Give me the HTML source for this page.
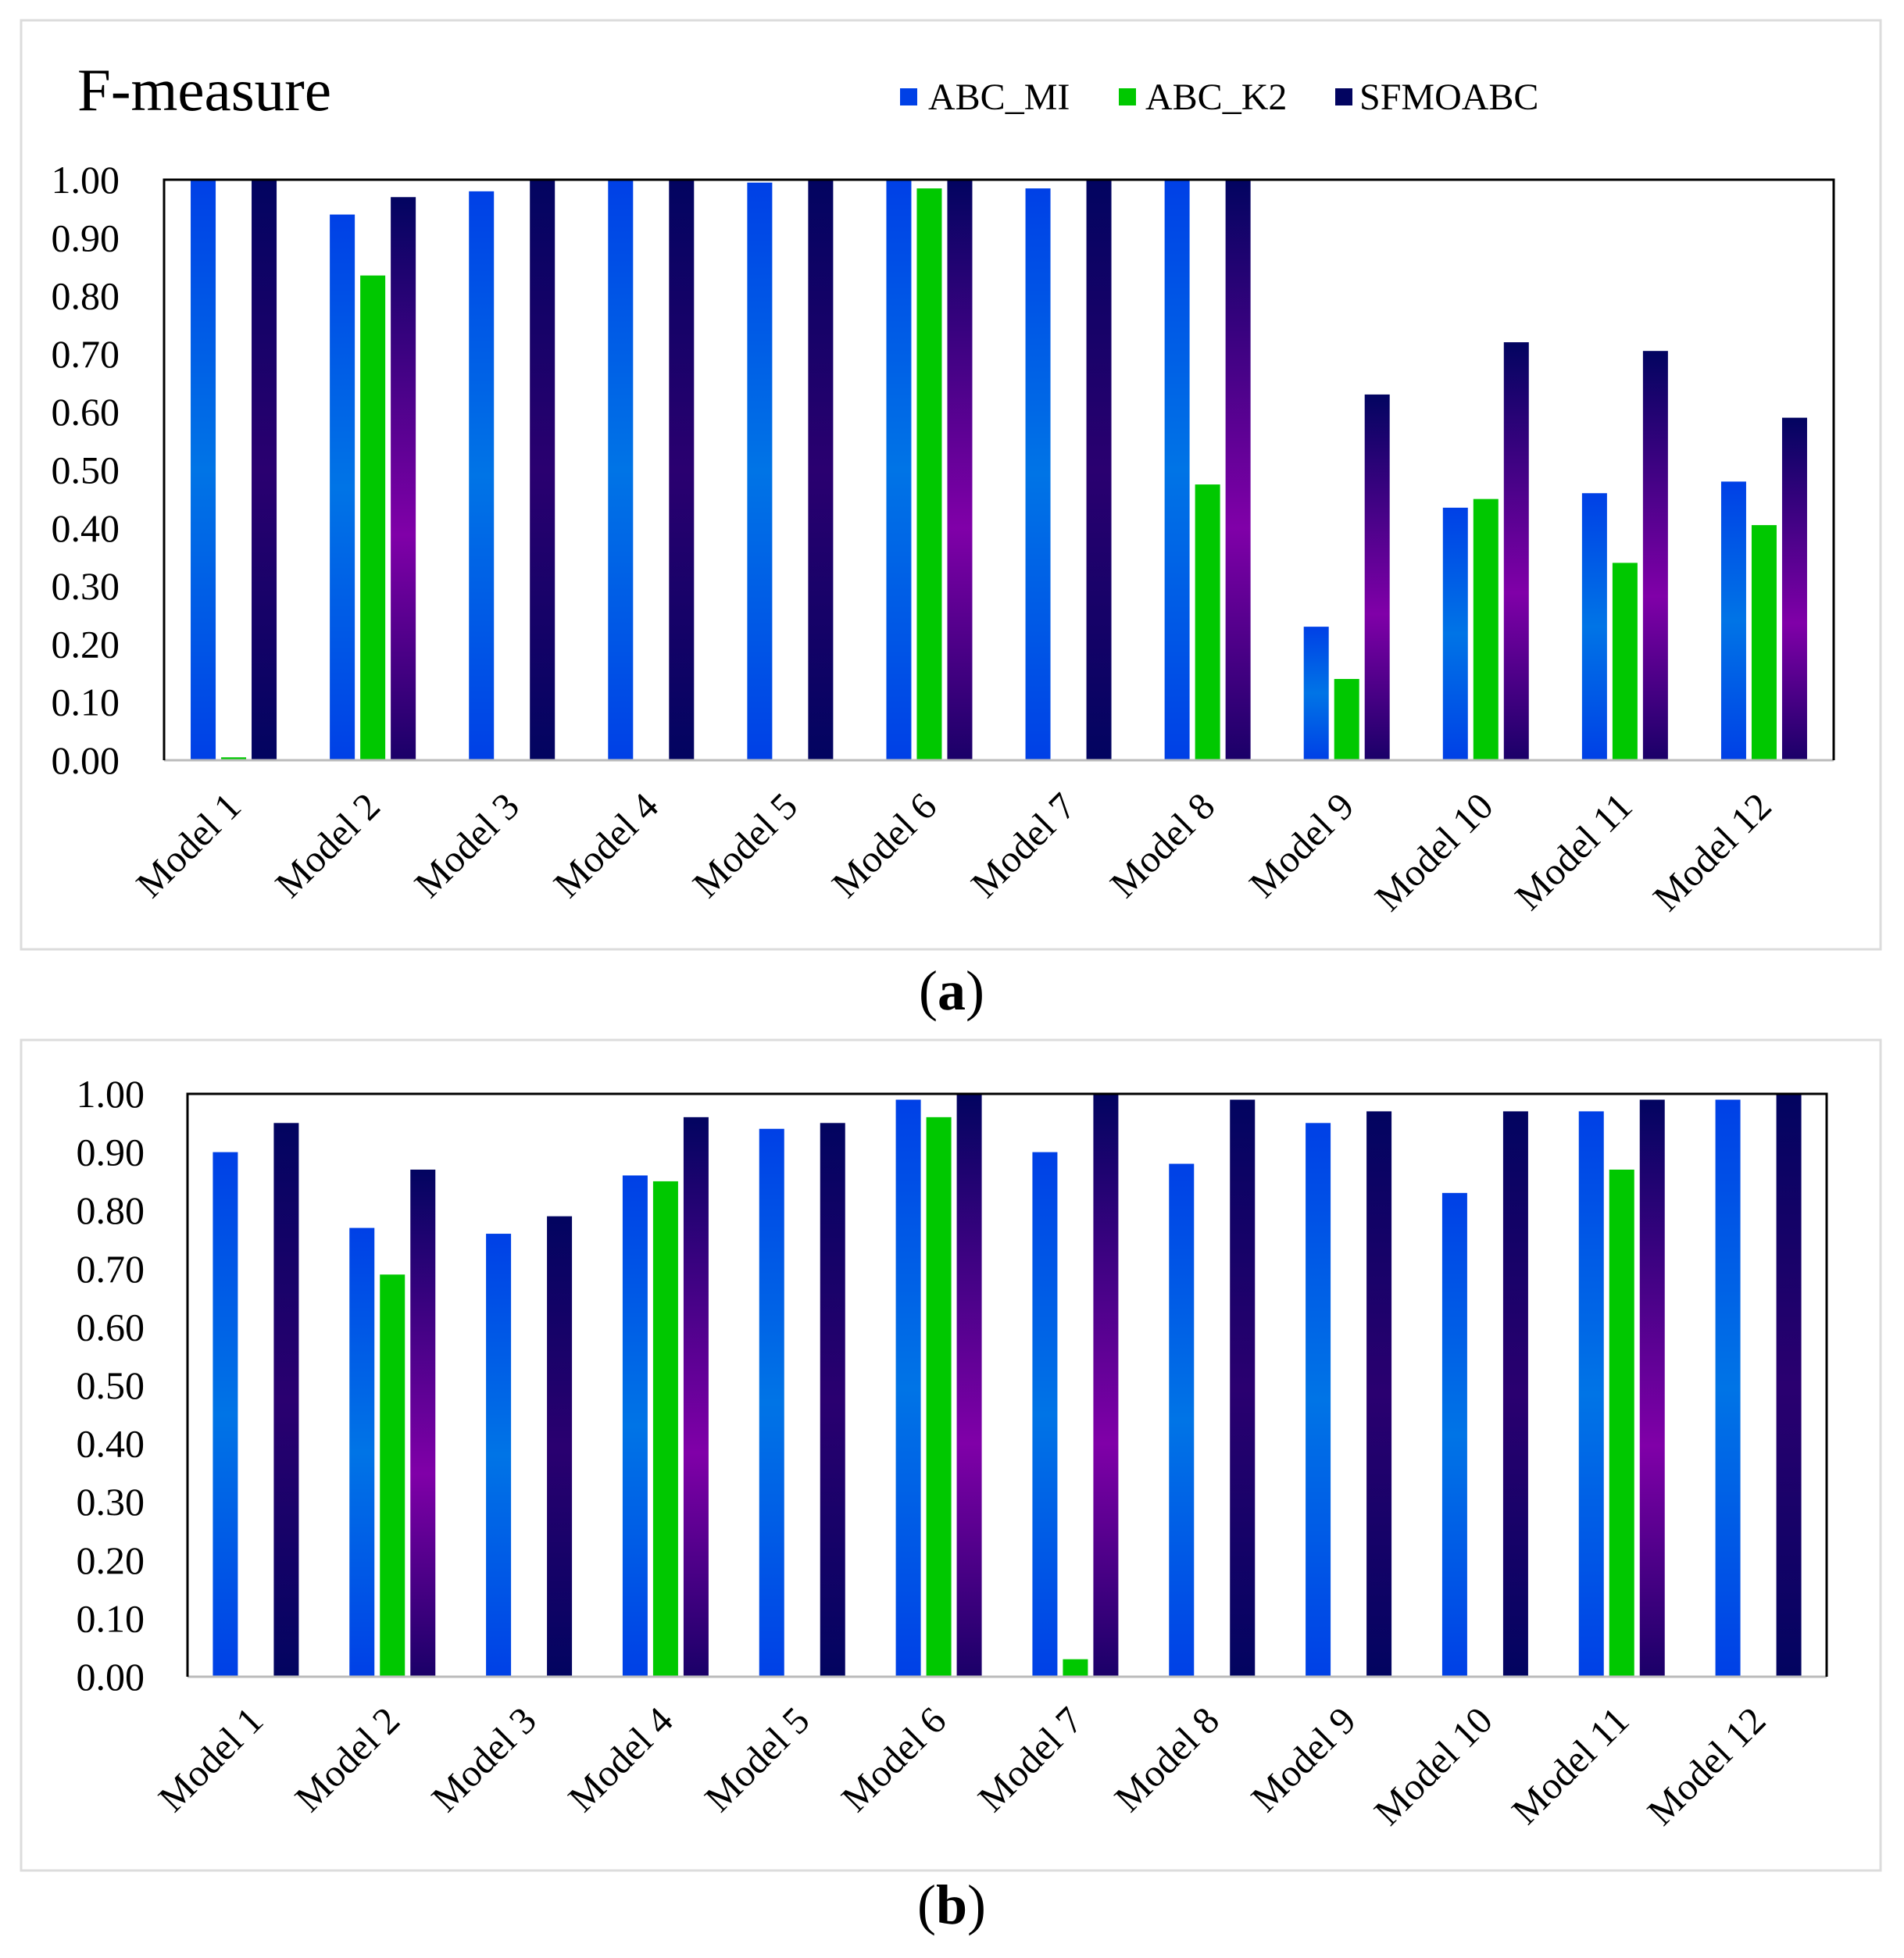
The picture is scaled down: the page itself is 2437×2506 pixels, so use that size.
<!DOCTYPE html>
<html><head><meta charset="utf-8"><style>
html,body{margin:0;padding:0;background:#fff}
svg{display:block}
text{font-family:"Liberation Serif",serif;fill:#000}
</style></head><body>
<svg id="s" width="2437" height="2506" viewBox="0 0 2437 2506" xmlns="http://www.w3.org/2000/svg">
<defs>
<linearGradient id="gb" x1="0" y1="0" x2="0" y2="1"><stop offset="0" stop-color="#0040e6"/><stop offset="0.5" stop-color="#0074e6"/><stop offset="1" stop-color="#0040e6"/></linearGradient>
<linearGradient id="gd" x1="0" y1="0" x2="0" y2="1"><stop offset="0" stop-color="#020460"/><stop offset="0.5" stop-color="#2a0070"/><stop offset="1" stop-color="#020460"/></linearGradient>
<linearGradient id="gp" x1="0" y1="0" x2="0" y2="1"><stop offset="0" stop-color="#020460"/><stop offset="0.6" stop-color="#8000a8"/><stop offset="1" stop-color="#1a0068"/></linearGradient>
</defs>
<rect x="27" y="26" width="2380" height="1189" fill="none" stroke="#dcdcdc" stroke-width="3"/>
<rect x="27" y="1331" width="2380" height="1063" fill="none" stroke="#dcdcdc" stroke-width="3"/>
<text x="99" y="141" font-size="77">F-measure</text>
<rect x="1152" y="113" width="22" height="22" fill="#0040e6"/><text x="1188" y="140" font-size="48">ABC_MI</text>
<rect x="1432" y="113" width="22" height="22" fill="#00c800"/><text x="1466" y="140" font-size="48">ABC_K2</text>
<rect x="1709" y="113" width="22" height="22" fill="#020460"/><text x="1740" y="140" font-size="48">SFMOABC</text>
<g id="g"></g>
<text x="1218" y="1292" font-size="72" text-anchor="middle">(<tspan font-weight="bold">a</tspan>)</text>
<text x="1218" y="2462" font-size="72" text-anchor="middle">(<tspan font-weight="bold">b</tspan>)</text>
</svg>
<script>
var g=document.getElementById('g'),ns='http://www.w3.org/2000/svg';
function el(t,a,txt){var e=document.createElementNS(ns,t);for(var k in a)e.setAttribute(k,a[k]);if(txt!=null)e.textContent=txt;g.appendChild(e);return e;}
function chart(L,R,T,B,labX,mi,k2,sf,lblY,lblDx){
 var H=B-T,cw=(R-L)/12;
 for(var i=0;i<=10;i++){var y=B-H*i/10;el('text',{x:labX,y:y+17,'font-size':50,'text-anchor':'end'},(i/10).toFixed(2));}
 for(var j=0;j<12;j++){var c=L+cw*(j+0.5);
  var vs=[mi[j],k2[j],sf[j]];
  var fills=['url(#gb)','#00c800',k2[j]>0.01?'url(#gp)':'url(#gd)'];
  for(var s=0;s<3;s++){var v=vs[s];if(v<=0)continue;var h=H*v;el('rect',{x:c+(s-1)*39-16,y:B-h,width:32,height:h,fill:fills[s]});}
  var ax=c+lblDx,ay=lblY;
  el('text',{x:ax,y:ay,'font-size':49,'text-anchor':'end',transform:'rotate(-45 '+ax+' '+ay+')'},'Model '+(j+1));
 }
 el('line',{x1:L,y1:B,x2:R,y2:B,stroke:'#bbb','stroke-width':3});
 el('polyline',{points:L+','+B+' '+L+','+T+' '+R+','+T+' '+R+','+B,fill:'none',stroke:'#000','stroke-width':3});
}
chart(210,2347,230,973,153,
 [1,0.94,0.98,1,0.995,1,0.985,1,0.23,0.435,0.46,0.48],
 [0.005,0.835,0,0,0,0.985,0,0.475,0.14,0.45,0.34,0.405],
 [1,0.97,1,1,1,1,1,1,0.63,0.72,0.705,0.59],1035,12);
chart(240,2338,1400,2146,185,
 [0.90,0.77,0.76,0.86,0.94,0.99,0.90,0.88,0.95,0.83,0.97,0.99],
 [0,0.69,0,0.85,0,0.96,0.03,0,0,0,0.87,0],
 [0.95,0.87,0.79,0.96,0.95,1,1,0.99,0.97,0.97,0.99,1],2205,12);
</script>
</body></html>
